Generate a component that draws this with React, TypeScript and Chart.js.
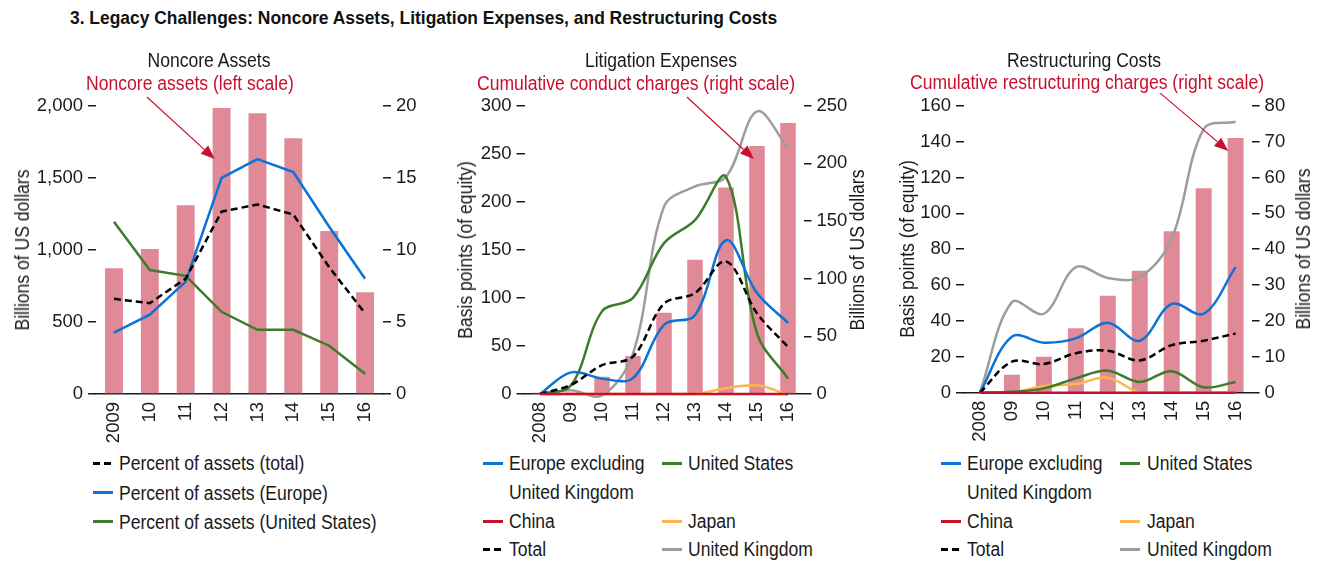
import React, { useEffect, useRef } from 'react';
import { Chart, registerables } from 'chart.js';

Chart.register(...registerables);

const FONT = "'Liberation Sans', Arial, 'DejaVu Sans', sans-serif";
const TXT = '#1a1a1a';
const SX = 0.9; // horizontal condensing of HTML text

// ---------- Panel 1: Noncore Assets ----------
const years1 = ['2009', '10', '11', '12', '13', '14', '15', '16'];
const noncoreAssets = [872, 1006, 1309, 1984, 1947, 1774, 1131, 705];
const pctTotal = [6.6, 6.3, 8.0, 12.65, 13.15, 12.45, 8.8, 5.6];
const pctEurope = [4.25, 5.5, 7.8, 15.0, 16.3, 15.4, 11.6, 8.0];
const pctUS = [11.95, 8.6, 8.2, 5.7, 4.45, 4.45, 3.35, 1.4];
const ticks1Left = [0, 500, 1000, 1500, 2000];
const ticks1Right = [0, 5, 10, 15, 20];

// ---------- Panel 2: Litigation Expenses ----------
const years2 = ['2008', '09', '10', '11', '12', '13', '14', '15', '16'];
const conductCharges = [1, 1, 15, 33, 70.5, 116.5, 179, 215, 235];
const litEurope = [0, 22.5, 16, 16.5, 72, 82, 160, 105, 74];
const litUS = [0, 9, 86, 100, 157, 181, 226, 63, 16];
const litChina = [0, 0, 0, 0, 0, 0, 0, 0, 0];
const litJapan = [0, 0, 0, 0, 0, 0, 6, 9, -1];
const litTotal = [0, 9.5, 30, 39, 94, 105, 138, 84, 49];
const litUK = [0, 4, -1.5, 42, 195, 216, 226, 294, 256];
const ticks2Left = [0, 50, 100, 150, 200, 250, 300];
const ticks2Right = [0, 50, 100, 150, 200, 250];

// ---------- Panel 3: Restructuring Costs ----------
const years3 = ['2008', '09', '10', '11', '12', '13', '14', '15', '16'];
const restructCharges = [0, 5, 10, 18, 27, 34, 45, 57, 71];
const resEurope = [0, 31.2, 27.9, 30.3, 39, 29, 49.5, 44, 70];
const resUS = [0, 0.5, 2.4, 8, 12.3, 6, 12, 3, 6];
const resChina = [0, 0, 0, 0, 0, 0, 0, 0, 0];
const resJapan = [0, 0, 3.7, 4.8, 8.4, 0, 0, 0, 0];
const resTotal = [0, 17.3, 16, 22, 23.4, 18, 26.5, 29, 33];
const resUK = [0, 50.5, 44, 70, 64, 64.5, 86, 147, 151];
const ticks3Left = [0, 20, 40, 60, 80, 100, 120, 140, 160];
const ticks3Right = [0, 10, 20, 30, 40, 50, 60, 70, 80];

const COL = {
  bar: '#e08a97',
  blue: '#0b72d6',
  green: '#3c7d2c',
  china: '#c8102e',
  japan: '#fdb64e',
  gray: '#9d9d9f',
  black: '#000000',
  red: '#c8102e',
};

const TENSION = 0.35;

const arrowPlugin = {
  id: 'arrowAnno',
  afterDatasetsDraw(chart: any, _args: any, opts: any) {
    if (!opts || !opts.from) return;
    const xs = chart.scales.x;
    const ys = chart.scales[opts.axis];
    const x1 = xs.getPixelForValue(opts.from[0]);
    const y1 = ys.getPixelForValue(opts.from[1]);
    const x2 = xs.getPixelForValue(opts.to[0]);
    const y2 = ys.getPixelForValue(opts.to[1]);
    const ang = Math.atan2(y2 - y1, x2 - x1);
    const len = 14, hw = 5.5;
    const bx = x2 - len * Math.cos(ang);
    const by = y2 - len * Math.sin(ang);
    const ctx = chart.ctx;
    ctx.save();
    ctx.strokeStyle = COL.red;
    ctx.fillStyle = COL.red;
    ctx.lineWidth = 1.2;
    ctx.beginPath();
    ctx.moveTo(x1, y1);
    ctx.lineTo(bx, by);
    ctx.stroke();
    ctx.beginPath();
    ctx.moveTo(x2, y2);
    ctx.lineTo(bx + hw * Math.sin(ang), by - hw * Math.cos(ang));
    ctx.lineTo(bx - hw * Math.sin(ang), by + hw * Math.cos(ang));
    ctx.closePath();
    ctx.fill();
    ctx.restore();
  },
};

function yAxis(position: string, tickVals: number[], width: number, fmt?: (v: number) => string) {
  return {
    position,
    min: tickVals[0],
    max: tickVals[tickVals.length - 1],
    afterBuildTicks: (s: any) => {
      s.ticks = tickVals.map((v) => ({ value: v }));
    },
    ticks: {
      color: TXT,
      font: { family: FONT, size: 18.5 },
      padding: 5,
      callback: (v: any) => (fmt ? fmt(Number(v)) : String(v)),
    },
    grid: { drawOnChartArea: false, drawTicks: true, tickLength: 8, color: TXT, lineWidth: 1.5 },
    border: { display: false },
    afterFit: (s: any) => {
      s.width = width;
    },
  };
}

function xAxis(height: number) {
  return {
    offset: true,
    grid: { display: false, drawTicks: false },
    border: { display: true, color: TXT, width: 1.5 },
    ticks: {
      color: TXT,
      font: { family: FONT, size: 18.5 },
      maxRotation: 90,
      minRotation: 90,
      padding: 8,
      autoSkip: false,
    },
    afterFit: (s: any) => {
      s.height = height;
    },
  };
}

function lineDs(label: string, data: number[], color: string, axis: string, tension: number, dashed = false) {
  return {
    type: 'line',
    label,
    data,
    yAxisID: axis,
    borderColor: color,
    backgroundColor: color,
    borderWidth: 2.5,
    borderDash: dashed ? [7, 4] : [],
    pointRadius: 0,
    tension,
    fill: false,
    clip: false,
    order: 1,
  };
}

function barDs(label: string, data: number[], axis: string) {
  return {
    type: 'bar',
    label,
    data,
    yAxisID: axis,
    backgroundColor: COL.bar,
    barPercentage: 0.5,
    categoryPercentage: 1,
    order: 10,
  };
}

function baseOptions(top: number, scales: any, arrow: any) {
  return {
    responsive: false,
    animation: false,
    layout: { padding: { top, left: 0, right: 0, bottom: 0 } },
    plugins: {
      legend: { display: false },
      tooltip: { enabled: false },
      arrowAnno: arrow,
    },
    scales,
  };
}

const fmtComma = (v: number) => v.toLocaleString('en-US');

function panel1Config() {
  return {
    type: 'bar',
    data: {
      labels: years1,
      datasets: [
        lineDs('Percent of assets (total)', pctTotal, COL.black, 'y1', 0, true),
        lineDs('Percent of assets (Europe)', pctEurope, COL.blue, 'y1', 0),
        lineDs('Percent of assets (United States)', pctUS, COL.green, 'y1', 0),
        barDs('Noncore assets', noncoreAssets, 'y'),
      ],
    },
    options: baseOptions(105.7, {
      x: xAxis(51),
      y: yAxis('left', ticks1Left, 96, fmtComma),
      y1: yAxis('right', ticks1Right, 57),
    }, { axis: 'y', from: [0.92, 2060], to: [2.81, 1630] }),
    plugins: [arrowPlugin],
  };
}

function panel2Config() {
  return {
    type: 'bar',
    data: {
      labels: years2,
      datasets: [
        lineDs('China', litChina, COL.china, 'y', TENSION),
        lineDs('Total', litTotal, COL.black, 'y', TENSION, true),
        lineDs('Europe excluding United Kingdom', litEurope, COL.blue, 'y', TENSION),
        lineDs('United States', litUS, COL.green, 'y', TENSION),
        lineDs('Japan', litJapan, COL.japan, 'y', TENSION),
        lineDs('United Kingdom', litUK, COL.gray, 'y', TENSION),
        barDs('Cumulative conduct charges', conductCharges, 'y1'),
      ],
    },
    options: baseOptions(105.7, {
      x: xAxis(51),
      y: yAxis('left', ticks2Left, 84.5),
      y1: yAxis('right', ticks2Right, 76.5),
    }, { axis: 'y1', from: [4.74, 257.5], to: [6.9, 203.8] }),
    plugins: [arrowPlugin],
  };
}

function panel3Config() {
  return {
    type: 'bar',
    data: {
      labels: years3,
      datasets: [
        lineDs('China', resChina, COL.china, 'y', TENSION),
        lineDs('Total', resTotal, COL.black, 'y', TENSION, true),
        lineDs('Europe excluding United Kingdom', resEurope, COL.blue, 'y', TENSION),
        lineDs('United States', resUS, COL.green, 'y', TENSION),
        lineDs('Japan', resJapan, COL.japan, 'y', TENSION),
        lineDs('United Kingdom', resUK, COL.gray, 'y', TENSION),
        barDs('Cumulative restructuring charges', restructCharges, 'y1'),
      ],
    },
    options: baseOptions(105.7, {
      x: xAxis(52.3),
      y: yAxis('left', ticks3Left, 84),
      y1: yAxis('right', ticks3Right, 76.4),
    }, { axis: 'y1', from: [5.64, 83.5], to: [7.77, 67.4] }),
    plugins: [arrowPlugin],
  };
}

function ChartCanvas({ left, width, height, make }: any) {
  const ref = useRef<HTMLCanvasElement | null>(null);
  useEffect(() => {
    const chart = new Chart(ref.current as HTMLCanvasElement, make());
    return () => chart.destroy();
  }, []);
  return (
    <canvas
      ref={ref}
      width={width}
      height={height}
      style={{ position: 'absolute', left, top: 0, width, height }}
    />
  );
}

function CenterText({ cx, cy, text, color = TXT, size = 19.5 }: any) {
  return (
    <div
      style={{
        position: 'absolute',
        left: cx - 250,
        width: 500,
        top: cy - 14,
        height: 28,
        lineHeight: '28px',
        textAlign: 'center',
        fontSize: size,
        color,
        whiteSpace: 'nowrap',
        transform: `scaleX(${SX})`,
        transformOrigin: 'center center',
      }}
    >
      {text}
    </div>
  );
}

function VText({ cx, cy, text }: any) {
  return (
    <div
      style={{
        position: 'absolute',
        left: cx,
        top: cy,
        transform: `translate(-50%, -50%) rotate(-90deg) scaleX(${SX})`,
        fontSize: 19.5,
        lineHeight: '24px',
        color: TXT,
        whiteSpace: 'nowrap',
      }}
    >
      {text}
    </div>
  );
}

function LegendItem({ sx, tx, cy, color, dashed, text }: any) {
  return (
    <>
      {color && (dashed ? (
        <>
          <div style={{ position: 'absolute', left: sx, top: cy - 1.5, width: 7, height: 3, background: color }} />
          <div style={{ position: 'absolute', left: sx + 11, top: cy - 1.5, width: 7, height: 3, background: color }} />
        </>
      ) : (
        <div style={{ position: 'absolute', left: sx, top: cy - 1.5, width: 20, height: 3, background: color }} />
      ))}
      <div
        style={{
          position: 'absolute',
          left: tx,
          top: cy - 14,
          height: 28,
          lineHeight: '28px',
          fontSize: 19.5,
          color: TXT,
          whiteSpace: 'nowrap',
          transform: `scaleX(${SX})`,
          transformOrigin: 'left center',
        }}
      >
        {text}
      </div>
    </>
  );
}

function CountryLegend({ x1, t1, x2, t2 }: any) {
  return (
    <>
      <LegendItem sx={x1} tx={t1} cy={463} color={COL.blue} text="Europe excluding" />
      <LegendItem sx={x1} tx={t1} cy={492} text="United Kingdom" />
      <LegendItem sx={x1} tx={t1} cy={521} color={COL.china} text="China" />
      <LegendItem sx={x1} tx={t1} cy={549} color={COL.black} dashed text="Total" />
      <LegendItem sx={x2} tx={t2} cy={463} color={COL.green} text="United States" />
      <LegendItem sx={x2} tx={t2} cy={521} color={COL.japan} text="Japan" />
      <LegendItem sx={x2} tx={t2} cy={549} color={COL.gray} text="United Kingdom" />
    </>
  );
}

export default function App() {
  return (
    <div
      style={{
        position: 'absolute',
        left: 0,
        top: 0,
        width: 1328,
        height: 562,
        background: '#ffffff',
        fontFamily: FONT,
        overflow: 'hidden',
      }}
    >
      <div
        style={{
          position: 'absolute',
          left: 70,
          top: 7,
          lineHeight: '22px',
          fontSize: 19,
          fontWeight: 'bold',
          color: '#111',
          whiteSpace: 'nowrap',
          transform: 'scaleX(0.917)',
          transformOrigin: 'left center',
        }}
      >
        3. Legacy Challenges: Noncore Assets, Litigation Expenses, and Restructuring Costs
      </div>

      <ChartCanvas left={0} width={440} height={445} make={panel1Config} />
      <ChartCanvas left={440} width={440} height={445} make={panel2Config} />
      <ChartCanvas left={880} width={448} height={445} make={panel3Config} />

      <CenterText cx={209} cy={60} text="Noncore Assets" />
      <CenterText cx={190} cy={83} text="Noncore assets (left scale)" color={COL.red} />
      <CenterText cx={661} cy={60} text="Litigation Expenses" />
      <CenterText cx={636} cy={83} text="Cumulative conduct charges (right scale)" color={COL.red} />
      <CenterText cx={1084} cy={60} text="Restructuring Costs" />
      <CenterText cx={1087} cy={82} text="Cumulative restructuring charges (right scale)" color={COL.red} />

      <VText cx={22} cy={250} text="Billions of US dollars" />
      <VText cx={465} cy={250} text="Basis points (of equity)" />
      <VText cx={857} cy={250} text="Billions of US dollars" />
      <VText cx={907} cy={249} text="Basis points (of equity)" />
      <VText cx={1303} cy={249} text="Billions of US dollars" />

      <LegendItem sx={93} tx={119} cy={463} color={COL.black} dashed text="Percent of assets (total)" />
      <LegendItem sx={93} tx={119} cy={492.5} color={COL.blue} text="Percent of assets (Europe)" />
      <LegendItem sx={93} tx={119} cy={521.5} color={COL.green} text="Percent of assets (United States)" />

      <CountryLegend x1={483} t1={509} x2={662} t2={688} />
      <CountryLegend x1={941} t1={967} x2={1120} t2={1147} />
    </div>
  );
}
